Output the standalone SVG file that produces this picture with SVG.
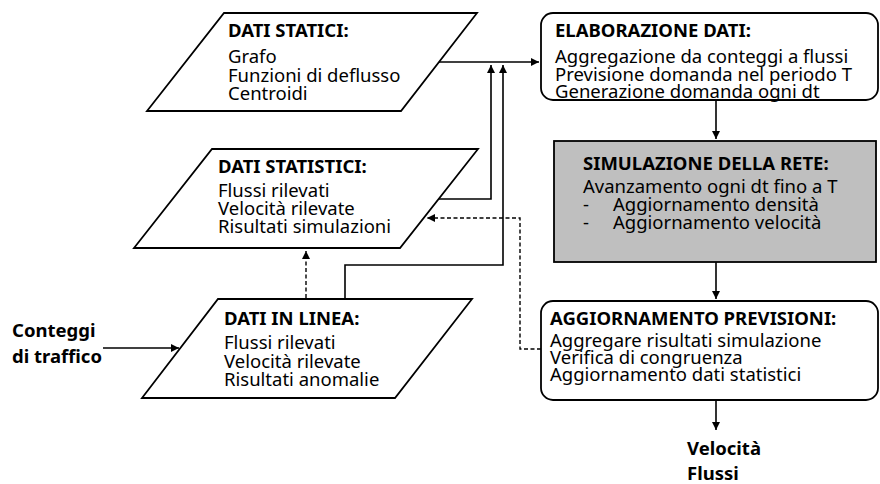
<svg xmlns="http://www.w3.org/2000/svg" width="880" height="484" viewBox="0 0 880 484">
<style>
text{font-family:"Noto Sans","Open Sans",sans-serif;font-size:18.5px;fill:#000}
.h{font-weight:bold}
.shape{fill:#fff;stroke:#000;stroke-width:1.8}
.gray{fill:#bfbfbf;stroke:#000;stroke-width:1.8}
.c{fill:none;stroke:#000;stroke-width:1.6}
.d{fill:none;stroke:#000;stroke-width:1.4;stroke-dasharray:4 2.5}
</style>
<defs>
<marker id="a" markerUnits="userSpaceOnUse" markerWidth="10" markerHeight="10" refX="8" refY="4" orient="auto">
<path d="M0,0 L8,4 L0,8 z" fill="#000"/>
</marker>
</defs>
<rect width="880" height="484" fill="#fff"/>
<g id="connectors">
<path class="c" d="M439,62 H539" marker-end="url(#a)"/>
<path class="c" d="M439,199 H491 V65" marker-end="url(#a)"/>
<path class="c" d="M345,299 V265 H503 V65" marker-end="url(#a)"/>
<path class="d" d="M306,298 V251" marker-end="url(#a)"/>
<path class="d" d="M541,349 H520 V218 H427" marker-end="url(#a)"/>
<path class="c" d="M716,100 V139" marker-end="url(#a)"/>
<path class="c" d="M716,262 V299" marker-end="url(#a)"/>
<path class="c" d="M716,400 V430" marker-end="url(#a)"/>
<path class="c" d="M103,348 H179" marker-end="url(#a)"/>
</g>
<g id="dati-statici">
<polygon class="shape" points="224,13 477,13 401,111 147,111"/>
<text class="h" x="228" y="37">DATI STATICI:</text>
<text x="228" y="63">Grafo</text>
<text x="228" y="81.5">Funzioni di deflusso</text>
<text x="228" y="100">Centroidi</text>
</g>
<g id="dati-statistici">
<polygon class="shape" points="212,149 478,149 400,248 134,248"/>
<text class="h" x="218" y="173">DATI STATISTICI:</text>
<text x="218" y="197">Flussi rilevati</text>
<text x="218" y="215">Velocità rilevate</text>
<text x="218" y="233">Risultati simulazioni</text>
</g>
<g id="dati-in-linea">
<polygon class="shape" points="218,299 472,299 395,398 142,398"/>
<text class="h" x="224" y="325">DATI IN LINEA:</text>
<text x="224" y="349">Flussi rilevati</text>
<text x="224" y="367.5">Velocità rilevate</text>
<text x="224" y="386">Risultati anomalie</text>
</g>
<g id="conteggi">
<text class="h" x="12" y="337">Conteggi</text>
<text class="h" x="12" y="363">di traffico</text>
</g>
<g id="elaborazione">
<rect class="shape" x="541" y="13" width="337" height="87" rx="12"/>
<text class="h" x="555" y="37">ELABORAZIONE DATI:</text>
<text x="555" y="62.5">Aggregazione da conteggi a flussi</text>
<text x="555" y="80.5">Previsione domanda nel periodo T</text>
<text x="555" y="98">Generazione domanda ogni dt</text>
</g>
<g id="simulazione">
<rect class="gray" x="554" y="141" width="322" height="121"/>
<text class="h" x="583" y="170">SIMULAZIONE DELLA RETE:</text>
<text x="583" y="193">Avanzamento ogni dt fino a T</text>
<text x="583" y="211">-</text>
<text x="613" y="211">Aggiornamento densità</text>
<text x="583" y="229">-</text>
<text x="613" y="229">Aggiornamento velocità</text>
</g>
<g id="aggiornamento">
<rect class="shape" x="541" y="301" width="337" height="99" rx="12"/>
<text class="h" x="550" y="325">AGGIORNAMENTO PREVISIONI:</text>
<text x="550" y="347">Aggregare risultati simulazione</text>
<text x="550" y="364">Verifica di congruenza</text>
<text x="550" y="381">Aggiornamento dati statistici</text>
</g>
<g id="output">
<text class="h" x="687" y="455">Velocità</text>
<text class="h" x="687" y="480">Flussi</text>
</g>
</svg>
